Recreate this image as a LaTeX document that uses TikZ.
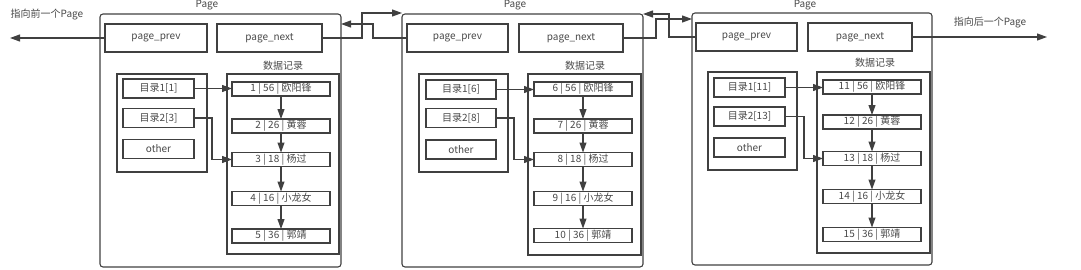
\documentclass[tikz,border=0pt]{standalone}
\usepackage{fontspec}
\setmainfont{Noto Sans CJK SC}
\usetikzlibrary{arrows.meta}
\definecolor{boxgray}{RGB}{64,64,64}
\definecolor{textgray}{RGB}{72,72,72}

\begin{document}
\begin{tikzpicture}[
    x=1pt, y=-1pt,
    every node/.style={font=\fontsize{10}{12}\selectfont, text=textgray,
        inner sep=0pt, outer sep=0pt},
    page/.style={rectangle, draw=boxgray, line width=1.1pt, rounded corners=3pt,
        minimum width=241pt, minimum height=253pt},
    field/.style={rectangle, draw=boxgray, line width=1.1pt, minimum height=28pt},
    group/.style={rectangle, draw=boxgray, line width=1.1pt},
    entry/.style={rectangle, draw=boxgray, line width=1.1pt,
        minimum width=71pt, minimum height=19pt},
    record/.style={rectangle, draw=boxgray, line width=1.1pt,
        minimum width=98pt, minimum height=14pt},
    arrow/.style={-{Triangle[length=10pt,width=7pt]}, line width=1.1pt, boxgray}
]
    \useasboundingbox (0,0) rectangle (1081,270);

    % first page
    \node[page] (pg1) at (220.5,140.5) {};
    \node (pglabel1) at (207,5) {Page};
    \node[field, minimum width=102pt] (prev1) at (156,38) {page\_prev};
    \node[field, minimum width=105pt] (next1) at (269.5,38) {page\_next};
    \node[group, minimum width=90pt, minimum height=98pt] (dir1) at (162,123) {};
    \node[group, minimum width=112pt, minimum height=180pt] (data1) at (283,164) {};
    \node (datalabel1) at (283,66) {数据记录};
    \node[entry] (ia1) at (158.5,88.5) {目录1[1]};
    \node[entry] (ib1) at (158.5,118) {目录2[3]};
    \node[entry] (ic1) at (158.5,149) {other};
    \node[record] (r11) at (281,89) {1 | 56 | 欧阳锋};
    \node[record] (r12) at (281,126) {2 | 26 | 黄蓉};
    \node[record] (r13) at (281,159.5) {3 | 18 | 杨过};
    \node[record] (r14) at (281,198.5) {4 | 16 | 小龙女};
    \node[record] (r15) at (281,236) {5 | 36 | 郭靖};

    % second page
    \node[page] (pg2) at (522.5,140.5) {};
    \node (pglabel2) at (515,5) {Page};
    \node[field, minimum width=101pt] (prev2) at (457.5,38) {page\_prev};
    \node[field, minimum width=104pt] (next2) at (571,38) {page\_next};
    \node[group, minimum width=89pt, minimum height=98pt] (dir2) at (463.5,123) {};
    \node[group, minimum width=113pt, minimum height=181pt] (data2) at (584.5,164.5) {};
    \node (datalabel2) at (585,66) {数据记录};
    \node[entry, minimum width=70pt] (ia2) at (461,89.5) {目录1[6]};
    \node[entry, minimum width=70pt] (ib2) at (461,118) {目录2[8]};
    \node[entry, minimum width=70pt] (ic2) at (461,149.5) {other};
    \node[record] (r21) at (583,89) {6 | 56 | 欧阳锋};
    \node[record] (r22) at (583,126) {7 | 26 | 黄蓉};
    \node[record] (r23) at (583,159.5) {8 | 18 | 杨过};
    \node[record] (r24) at (583,198.5) {9 | 16 | 小龙女};
    \node[record] (r25) at (583,235.5) {10 | 36 | 郭靖};

    % third page
    \node[page, minimum width=240pt, minimum height=252pt] (pg3) at (812,139) {};
    \node (pglabel3) at (805,5) {Page};
    \node[field, minimum width=101pt] (prev3) at (746.5,37) {page\_prev};
    \node[field, minimum width=104pt] (next3) at (860,37) {page\_next};
    \node[group, minimum width=89pt, minimum height=98pt] (dir3) at (752.5,121) {};
    \node[group, minimum width=113pt, minimum height=181pt] (data3) at (873.5,162.5) {};
    \node (datalabel3) at (875,63) {数据记录};
    \node[entry] (ia3) at (749.5,87.5) {目录1[11]};
    \node[entry] (ib3) at (749.5,116.5) {目录2[13]};
    \node[entry] (ic3) at (749.5,147.5) {other};
    \node[record] (r31) at (872,87) {11 | 56 | 欧阳锋};
    \node[record] (r32) at (872,122) {12 | 26 | 黄蓉};
    \node[record] (r33) at (872,158.5) {13 | 18 | 杨过};
    \node[record] (r34) at (872,196.5) {14 | 16 | 小龙女};
    \node[record] (r35) at (872,234.5) {15 | 36 | 郭靖};

    % outer ends
    \node (leftlabel) at (47,15) {指向前一个Page};
    \node (rightlabel) at (990,23) {指向后一个Page};
    \coordinate (leftend) at (10,38);
    \coordinate (rightend) at (1047,37);

    % links between pages
    \draw[arrow] (prev1.west) -- (leftend);
    \draw[arrow] (next1.east) -| (362,13) -- (pg2.west |- 362,13);
    \draw[arrow] (prev2.west) -| (373,24) -- (pg1.east |- 373,24);
    \draw[arrow] (next2.east) -| (656,19) -- (pg3.west |- 656,19);
    \draw[arrow] (prev3.west) -| (669,14) -- (pg2.east |- 669,14);
    \draw[arrow] (next3.east) -- (rightend);

    % directory to records
    \draw[arrow] (ia1.east) -- (ia1.east -| r11.west);
    \draw[arrow] (ib1.east) -- ++(18,0) |- (r13.west);
    \draw[arrow] (ia2.east) -- (ia2.east -| r21.west);
    \draw[arrow] (ib2.east) -- ++(18,0) |- (r23.west);
    \draw[arrow] (ia3.east) -- (ia3.east -| r31.west);
    \draw[arrow] (ib3.east) -- ++(19,0) |- (r33.west);

    % record chains
    \draw[arrow] (r11) -- (r12);
    \draw[arrow] (r12) -- (r13);
    \draw[arrow] (r13) -- (r14);
    \draw[arrow] (r14) -- (r15);
    \draw[arrow] (r21) -- (r22);
    \draw[arrow] (r22) -- (r23);
    \draw[arrow] (r23) -- (r24);
    \draw[arrow] (r24) -- (r25);
    \draw[arrow] (r31) -- (r32);
    \draw[arrow] (r32) -- (r33);
    \draw[arrow] (r33) -- (r34);
    \draw[arrow] (r34) -- (r35);
\end{tikzpicture}
\end{document}
